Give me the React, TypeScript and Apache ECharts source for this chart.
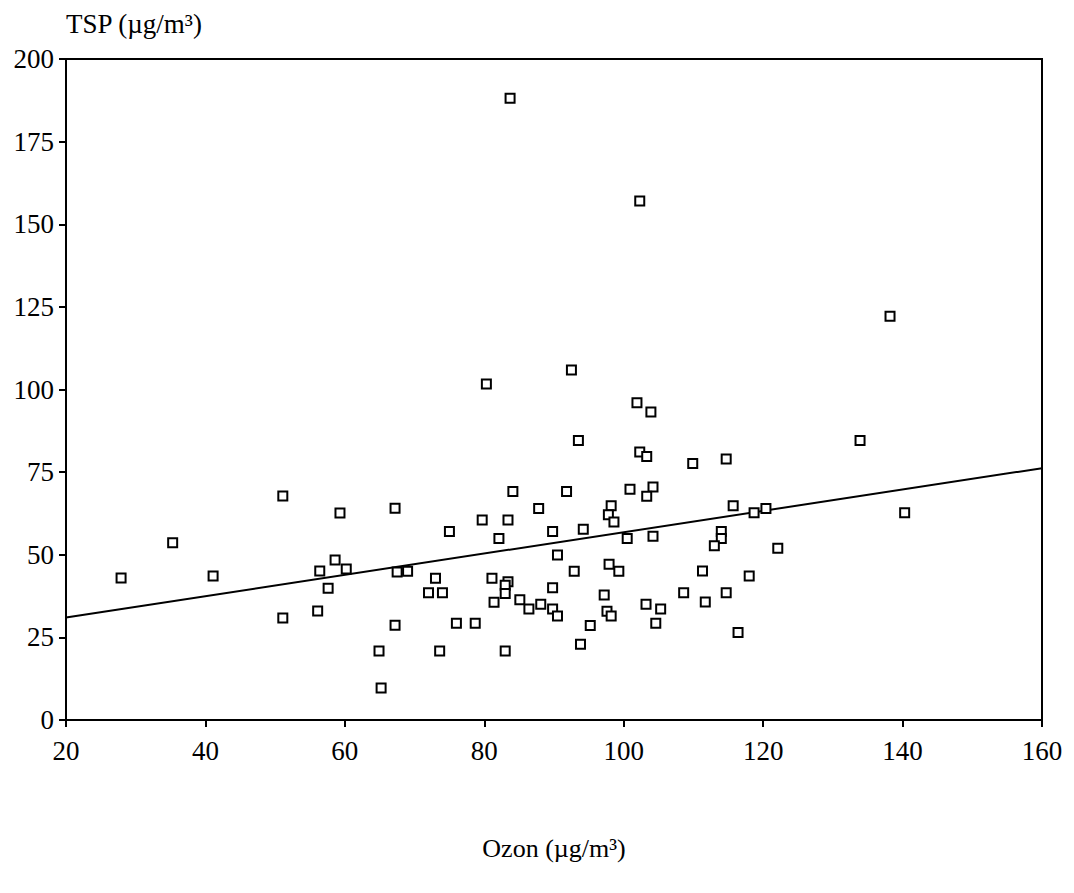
import React, { useEffect, useRef } from "react";
import * as echarts from "echarts";

const ozon: number[] = [
  27.9, 35.3, 41.1, 51.1, 51.1, 59.3, 67.2, 58.6, 56.4, 60.2, 57.6, 56.1, 67.5, 67.2, 64.9, 65.2,
  92.5, 80.3, 101.9, 103.9, 93.5, 102.3, 103.3, 109.9, 84.1, 91.8, 100.9, 104.2, 103.3,
  87.8, 98.2, 97.8, 98.6, 79.7, 83.4, 75.0, 82.1, 89.8, 94.2, 100.5, 104.2, 90.5,
  69.0, 73.0, 81.1, 92.9, 97.9, 99.3, 72.0, 74.0, 83.4, 83.0, 83.0, 81.4, 85.1, 86.4,
  88.1, 89.8, 89.8, 90.5, 97.2, 97.6, 98.2, 95.2, 93.8, 103.2, 105.3, 104.6, 108.6,
  76.0, 78.7, 73.6, 83.0,
  133.9, 114.7, 115.7, 118.7, 120.4, 140.3, 114.0, 114.0, 113.0, 122.1, 111.3, 118.0,
  114.7, 111.7, 116.4, 83.7, 102.3, 138.2,
];
const tsp: number[] = [
  43.0, 53.6, 43.6, 30.9, 67.8, 62.6, 64.1, 48.4, 45.1, 45.7, 39.9, 33.0, 44.8, 28.7, 20.9, 9.7,
  105.9, 101.7, 96.0, 93.2, 84.6, 81.1, 79.7, 77.6, 69.1, 69.1, 69.8, 70.5, 67.7,
  64.0, 64.8, 62.1, 59.9, 60.5, 60.5, 57.0, 54.9, 57.0, 57.7, 54.9, 55.6, 49.9,
  45.0, 42.9, 42.9, 45.0, 47.1, 45.0, 38.5, 38.5, 41.8, 40.8, 38.3, 35.6, 36.4, 33.6,
  35.0, 40.0, 33.6, 31.5, 37.8, 32.9, 31.5, 28.6, 22.9, 35.0, 33.6, 29.3, 38.5,
  29.3, 29.3, 20.9, 20.9,
  84.6, 79.0, 64.8, 62.7, 64.0, 62.7, 57.0, 54.9, 52.7, 52.0, 45.1, 43.6,
  38.5, 35.7, 26.5, 188.1, 157.0, 122.2,
];
const trendX: number[] = [20, 160];
const trendY: number[] = [31.0, 76.2];
const xTicks = { min: 20, max: 160, interval: 20 };
const yTicks = { min: 0, max: 200, interval: 25 };

const FONT = "Liberation Serif";
const FS = 27;

export default function App() {
  const ref = useRef<HTMLDivElement>(null);
  useEffect(() => {
    document.body.style.margin = "0";
    const chart = echarts.init(ref.current!, undefined, { renderer: "svg" });
    chart.setOption({
      animation: false,
      backgroundColor: "#fff",
      grid: {
        left: 66,
        right: 32,
        top: 59,
        bottom: 173,
        show: true,
        borderColor: "#000",
        borderWidth: 2,
        backgroundColor: "transparent",
      },
      xAxis: {
        type: "value",
        min: xTicks.min,
        max: xTicks.max,
        interval: xTicks.interval,
        name: "Ozon (µg/m³)",
        nameLocation: "middle",
        nameGap: 115,
        nameTextStyle: { fontFamily: FONT, fontSize: 26, color: "#000" },
        axisLine: { show: true, onZero: false, lineStyle: { color: "#000", width: 2 } },
        axisTick: { show: true, inside: false, length: 7, lineStyle: { color: "#000", width: 2 } },
        axisLabel: { fontFamily: FONT, fontSize: FS, color: "#000", margin: 17 },
        splitLine: { show: false },
      },
      yAxis: {
        type: "value",
        min: yTicks.min,
        max: yTicks.max,
        interval: yTicks.interval,
        name: "TSP (µg/m³)",
        nameLocation: "end",
        nameGap: 22,
        nameTextStyle: { fontFamily: FONT, fontSize: FS, color: "#000", align: "left" },
        axisLine: { show: true, onZero: false, lineStyle: { color: "#000", width: 2 } },
        axisTick: { show: true, inside: false, length: 7, lineStyle: { color: "#000", width: 2 } },
        axisLabel: { fontFamily: FONT, fontSize: FS, color: "#000", margin: 12 },
        splitLine: { show: false },
      },
      series: [
        {
          type: "line",
          data: trendX.map((x, i) => [x, trendY[i]]),
          showSymbol: false,
          symbol: "none",
          lineStyle: { color: "#000", width: 2 },
          z: 2,
        },
        {
          type: "scatter",
          data: ozon.map((x, i) => [x, tsp[i]]),
          symbol: "rect",
          symbolSize: 9,
          itemStyle: { color: "#fff", borderColor: "#000", borderWidth: 2, opacity: 1 },
          z: 3,
        },
      ],
    });
    return () => chart.dispose();
  }, []);
  return <div ref={ref} style={{ width: 1074, height: 893 }} />;
}
